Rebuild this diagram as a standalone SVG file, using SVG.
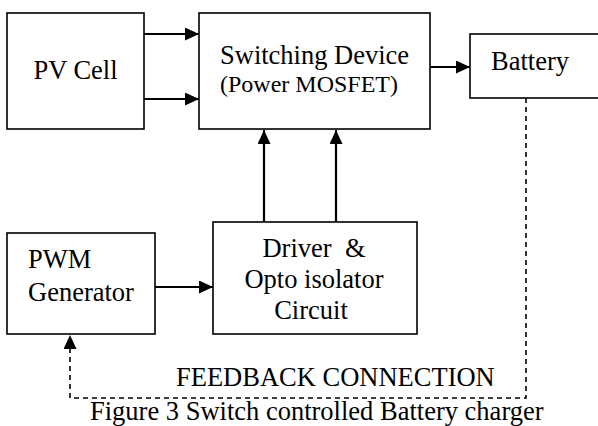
<svg xmlns="http://www.w3.org/2000/svg" width="598" height="426" viewBox="0 0 598 426">
<style>
.box{fill:#fff;stroke:#000;stroke-width:1.6}
.t{font-size:26.5px;fill:#000}
.c{text-anchor:middle}
.arr{fill:none;stroke:#000;stroke-width:2.2;marker-end:url(#ah)}
.dash{fill:none;stroke:#000;stroke-width:1.6;stroke-dasharray:5,4;marker-end:url(#ah)}
</style>
<defs>
<marker id="ah" markerUnits="userSpaceOnUse" markerWidth="16" markerHeight="14" refX="14" refY="6.5" orient="auto">
<path d="M0,0 L14,6.5 L0,13 z" fill="#000"/>
</marker>
</defs>
<rect width="598" height="426" fill="#fff"/>
<g id="connectors">
<line class="arr" x1="144" y1="34" x2="199" y2="34"/>
<line class="arr" x1="144" y1="99" x2="199" y2="99"/>
<line class="arr" x1="430" y1="67" x2="470" y2="67"/>
<line class="arr" x1="264" y1="222" x2="264" y2="130"/>
<line class="arr" x1="336" y1="222" x2="336" y2="130"/>
<line class="arr" x1="155" y1="287" x2="213" y2="287"/>
<path class="dash" d="M526,98 V398 H70 V335"/>
</g>
<g font-family="'Liberation Serif', 'Times New Roman', Times, serif">
<g id="pv">
<rect class="box" x="7" y="13" width="137" height="116"/>
<text class="t c" x="75.5" y="79">PV Cell</text>
</g>
<g id="switch">
<rect class="box" x="199" y="13" width="231" height="116"/>
<text class="t" x="220" y="64">Switching Device</text>
<text class="t" x="220" y="92" style="font-size:24px">(Power MOSFET)</text>
</g>
<g id="battery">
<rect class="box" x="470" y="34" width="140" height="64"/>
<text class="t" x="491" y="70">Battery</text>
</g>
<g id="pwm">
<rect class="box" x="7" y="233" width="148" height="101"/>
<text class="t" x="28" y="268">PWM</text>
<text class="t" x="28" y="301">Generator</text>
</g>
<g id="driver">
<rect class="box" x="213" y="222" width="204" height="112"/>
<text class="t c" x="314" y="257" xml:space="preserve">Driver  &amp;</text>
<text class="t c" x="314" y="288">Opto isolator</text>
<text class="t c" x="311" y="319">Circuit</text>
</g>
<g id="labels">
<text class="t" x="176" y="386">FEEDBACK CONNECTION</text>
<text class="t" x="90" y="420">Figure 3 Switch controlled Battery charger</text>
</g>
</g>
</svg>
